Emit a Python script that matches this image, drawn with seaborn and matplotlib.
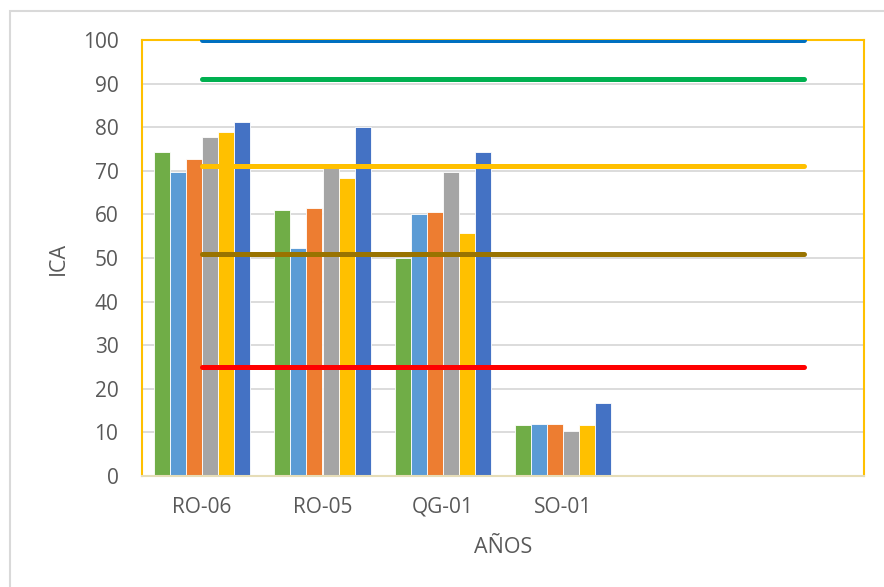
import matplotlib
matplotlib.use("Agg")
import matplotlib.pyplot as plt
import seaborn as sns
import pandas as pd
from matplotlib.patches import Rectangle

# Sampling stations (two trailing empty slots keep the category axis wide)
stations = ["RO-06", "RO-05", "QG-01", "SO-01", "", " "]
series = ["Serie1", "Serie2", "Serie3", "Serie4", "Serie5", "Serie6"]

# ICA values per series, one value per station with data
serie1 = [74.2, 60.9, 50.0, 11.6]
serie2 = [69.7, 52.2, 60.0, 11.9]
serie3 = [72.6, 61.5, 60.5, 12.0]
serie4 = [77.8, 70.7, 69.7, 10.3]
serie5 = [78.8, 68.4, 55.8, 11.7]
serie6 = [81.1, 80.0, 74.3, 16.8]

bar_colors = ["#70AD47", "#5B9BD5", "#ED7D31", "#A5A5A5", "#FFC000", "#4472C4"]

# Quality class limits drawn as horizontal reference lines
limit_values = [100, 91, 71, 51, 25]
limit_colors = ["#0070C0", "#00B050", "#FFC000", "#997300", "#FF0000"]

yticks = list(range(0, 101, 10))

rows = []
for name, vals in zip(series, [serie1, serie2, serie3, serie4, serie5, serie6]):
    for st, v in zip(stations, vals):
        rows.append({"station": st, "serie": name, "ica": v})
df = pd.DataFrame(rows)

sns.set_theme(style="white")
plt.rcParams["font.family"] = ["Open Sans", "DejaVu Sans"]

text_color = "#595959"
fig = plt.figure(figsize=(8.84, 5.87), dpi=100)
ax = fig.add_axes([142 / 884, 1 - 476 / 587, (864 - 142) / 884, (476 - 40) / 587])

sns.barplot(data=df, x="station", y="ica", hue="serie", order=stations,
            hue_order=series, palette=bar_colors, saturation=1, width=0.8, gap=0,
            edgecolor="#FFFFFF", linewidth=0.6, legend=False, ax=ax, zorder=2)

last = len(stations) - 1
for val, col in zip(limit_values, limit_colors):
    ax.plot([0, last], [val, val], color=col, lw=3.6,
            solid_capstyle="round", zorder=3, clip_on=True)

ax.set_xlim(-0.5, last + 0.5)
ax.set_ylim(0, 100)
ax.set_yticks(yticks)
ax.yaxis.grid(True, color="#D9D9D9", lw=1.3, zorder=0)
ax.set_axisbelow(True)
ax.tick_params(axis="both", length=0, labelsize=15, labelcolor=text_color)
ax.tick_params(axis="y", pad=17)
ax.tick_params(axis="x", pad=15)

for side in ["left", "top", "right"]:
    ax.spines[side].set_visible(True)
    ax.spines[side].set_color("#FFC000")
    ax.spines[side].set_linewidth(1.5)
ax.spines["bottom"].set_color("#E6DDB8")
ax.spines["bottom"].set_linewidth(1.5)
ax.spines["bottom"].set_zorder(4)

ax.set_xlabel("AÑOS", fontsize=15.5, color=text_color, labelpad=14)
ax.set_ylabel("ICA", fontsize=15.5, color=text_color, labelpad=10)

# light outer frame of the chart area
fig.patches.append(Rectangle((10 / 884, -0.05), 1.0, 1 - 11 / 587 + 0.05,
                             transform=fig.transFigure, fill=False,
                             edgecolor="#D9D9D9", lw=1.5))

fig.savefig("out.png", dpi=100)
